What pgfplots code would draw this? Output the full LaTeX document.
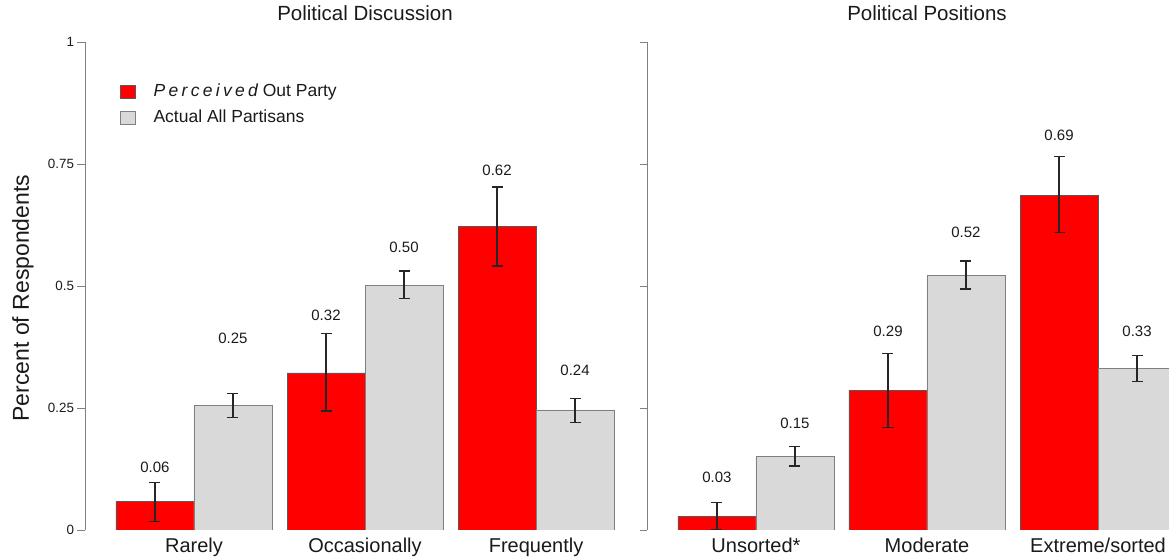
\documentclass[border=0pt]{standalone}
\usepackage{fontspec}
\setmainfont{Liberation Sans}
\newfontfamily\spacedfont[LetterSpace=19]{Liberation Sans}
\usepackage{pgfplots}
\usepackage{pgfplotstable}
\pgfplotsset{compat=1.18}
\definecolor{barred}{HTML}{FF0000}
\definecolor{bargray}{HTML}{D9D9D9}
\definecolor{txt}{HTML}{1A1A1A}

% Political Discussion (x = bar centre; groups at 0,1,2)
\pgfplotstableread{
x y ep em
-0.228 0.058 0.039 0.040
0.772 0.322 0.080 0.078
1.772 0.622 0.081 0.081
}\discRed
\pgfplotstableread{
x y ep em
0.228 0.256 0.024 0.025
1.228 0.502 0.029 0.027
2.228 0.246 0.024 0.025
}\discGray
\pgfplotstableread{
x y lab
-0.228 0.129 0.06
0.228 0.393 0.25
0.772 0.439 0.32
1.228 0.580 0.50
1.772 0.738 0.62
2.228 0.328 0.24
}\discLab
% Political Positions
\pgfplotstableread{
x y ep em
-0.228 0.028 0.029 0.028
0.772 0.286 0.076 0.076
1.772 0.686 0.079 0.077
}\posRed
\pgfplotstableread{
x y ep em
0.228 0.150 0.021 0.019
1.228 0.522 0.029 0.028
2.228 0.331 0.026 0.027
}\posGray
\pgfplotstableread{
x y lab
-0.228 0.107 0.03
0.228 0.219 0.15
0.772 0.408 0.29
1.228 0.609 0.52
1.772 0.809 0.69
2.228 0.408 0.33
}\posLab

\pgfplotsset{
  panel/.style={
    scale only axis,
    anchor=south west,
    height=488bp,
    ymin=0, ymax=1,
    axis y line=left,
    axis x line*=bottom,
    x axis line style={draw=none},
    y axis line style={-, draw=gray, line width=0.9bp},
    ytick={0,0.25,0.5,0.75,1},
    tick align=outside,
    major tick length=7.5bp,
    ytick style={draw=gray, line width=0.9bp},
    xtick style={draw=none},
    xtick={0,1,2},
    xticklabel style={font=\fontsize{20bp}{24bp}\selectfont, text=txt, anchor=base, yshift=-15bp},
    yticklabel style={font=\fontsize{13.4bp}{16bp}\selectfont, text=txt},
    title style={at={(0.5,1)}, anchor=base, yshift=15.3bp, font=\fontsize{20.5bp}{24bp}\selectfont, text=txt},
    clip=true,
  },
  errstyle/.style={
    error bars/y dir=both, error bars/y explicit,
    error bars/error bar style={black!85, line width=1.3bp},
    error bars/error mark options={rotate=90, black!85, mark size=5.5bp, line width=1.3bp}},
  redbar/.style={ybar, bar width=78bp, bar shift=0bp, fill=barred, draw=black!65, line width=0.7bp, errstyle},
  graybar/.style={ybar, bar width=78bp, bar shift=0bp, fill=bargray, draw=gray, line width=0.7bp, errstyle},
  vallab/.style={draw=none, mark=none, forget plot, nodes near coords, point meta=explicit symbolic,
    nodes near coords style={anchor=center, font=\fontsize{15bp}{18bp}\selectfont, text=txt}},
}

\begin{document}
\begin{tikzpicture}
\path[use as bounding box] (0,0) rectangle (1169bp,558bp);

\begin{axis}[panel,
  at={(85bp,28bp)},
  width=560bp,
  xmin=-0.637, xmax=2.637,
  xticklabels={Rarely,Occasionally,Frequently},
  yticklabels={0,0.25,0.5,0.75,1},
  title={Political Discussion},
  ylabel={Percent of Respondents},
  ylabel style={at={(axis description cs:-0.111,0.475)}, anchor=center, rotate=0, font=\fontsize{23bp}{27bp}\selectfont, text=txt},
  legend style={at={(axis description cs:0.0625,0.9154)}, anchor=north west, draw=none, fill=none, inner sep=0pt,
    row sep=9bp, font=\fontsize{17.5bp}{21bp}\selectfont,
    nodes={inner sep=0pt, text height=13bp, text depth=4bp, text=txt}},
  legend cell align=left,
]
\addplot[legend image code/.code={\draw[fill=barred, draw=black!65, line width=0.7bp] (0bp,-6.8bp) rectangle (15bp,6.8bp); \path[draw=none, fill=none] (0bp,0bp) -- (33bp,0bp);}, redbar]
  table[x=x, y=y, y error plus=ep, y error minus=em] {\discRed};
\addlegendentry{{\spacedfont\itshape Perceived} Out Party}
\addplot[legend image code/.code={\draw[fill=bargray, draw=gray, line width=0.7bp] (0bp,-6.8bp) rectangle (15bp,6.8bp); \path[draw=none, fill=none] (0bp,0bp) -- (33bp,0bp);}, graybar]
  table[x=x, y=y, y error plus=ep, y error minus=em] {\discGray};
\addlegendentry{Actual All Partisans}
\addplot[vallab] table[x=x, y=y, meta=lab] {\discLab};
\end{axis}

\begin{axis}[panel,
  at={(647bp,28bp)},
  width=522bp,
  xmin=-0.637, xmax=2.415,
  xticklabels={Unsorted*,Moderate,Extreme/sorted},
  yticklabels={},
  title={Political Positions},
  title style={at={(0.5364,1)}},
]
\addplot[redbar] table[x=x, y=y, y error plus=ep, y error minus=em] {\posRed};
\addplot[graybar] table[x=x, y=y, y error plus=ep, y error minus=em] {\posGray};
\addplot[vallab] table[x=x, y=y, meta=lab] {\posLab};
\end{axis}
\end{tikzpicture}
\end{document}
